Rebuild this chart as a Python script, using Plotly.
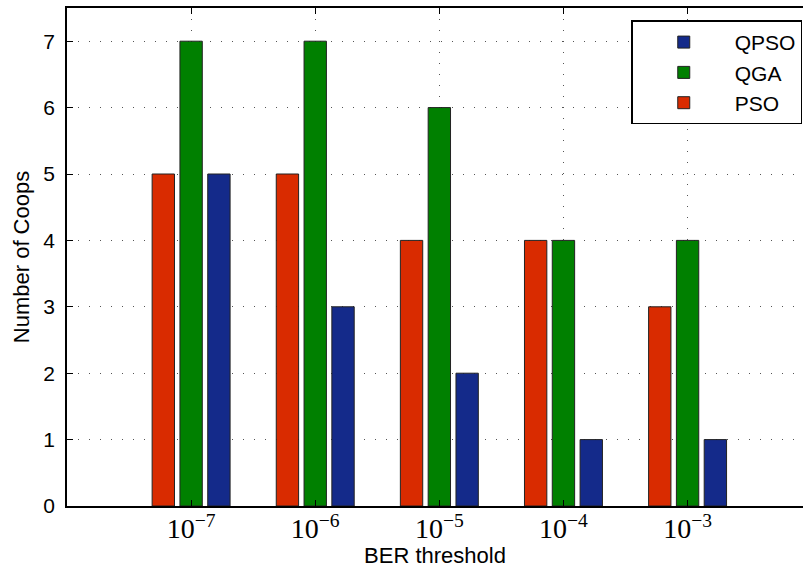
import plotly.graph_objects as go

categories = ["1e-7", "1e-6", "1e-5", "1e-4", "1e-3"]
tick_labels = ["10<sup>−7</sup>", "10<sup>−6</sup>", "10<sup>−5</sup>", "10<sup>−4</sup>", "10<sup>−3</sup>"]
pso = [5, 5, 4, 4, 3]
qga = [7, 7, 6, 4, 4]
qpso = [5, 3, 2, 1, 1]

x = [1, 2, 3, 4, 5]

fig = go.Figure()
line = dict(color="#222222", width=1)
fig.add_trace(go.Bar(x=x, y=pso, name="PSO", marker=dict(color="#D92B00", line=line)))
fig.add_trace(go.Bar(x=x, y=qga, name="QGA", marker=dict(color="#008000", line=line)))
fig.add_trace(go.Bar(x=x, y=qpso, name="QPSO", marker=dict(color="#142A8A", line=line)))

fig.update_layout(
    width=803, height=568,
    margin=dict(l=67, r=0, t=8, b=62),
    plot_bgcolor="white", paper_bgcolor="white",
    barmode="group", bargap=0.328, bargroupgap=0.196,
    font=dict(family="Liberation Sans, Arial", size=21, color="black"),
    legend=dict(
        x=0.999, y=0.975, xanchor="right", yanchor="top",
        traceorder="reversed",
        bordercolor="black", borderwidth=1.5, bgcolor="white",
        font=dict(size=21, family="Liberation Sans, Arial"),
        tracegroupgap=0, itemwidth=92,
    ),
    showlegend=True,
)
fig.update_xaxes(
    range=[0, 5.93], tickvals=x, ticktext=tick_labels,
    tickfont=dict(family="Liberation Serif, Times New Roman", size=28),
    ticklabelstandoff=-3,
    showline=True, linecolor="black", linewidth=1.5, mirror="ticks",
    ticks="inside", ticklen=6, tickcolor="black",
    showgrid=True, gridcolor="#555555", griddash="1px,10px", gridwidth=1,
    title=dict(text="BER threshold", font=dict(size=22), standoff=4),
    zeroline=False,
)
fig.update_yaxes(
    range=[0, 7.5], tickvals=[0, 1, 2, 3, 4, 5, 6, 7],
    tickfont=dict(size=21), ticklabelstandoff=6,
    showline=True, linecolor="black", linewidth=1.5, mirror=False,
    ticks="inside", ticklen=6, tickcolor="black",
    showgrid=True, gridcolor="#555555", griddash="1px,10px", gridwidth=1,
    title=dict(text="Number of Coops", font=dict(size=22), standoff=8),
    zeroline=False,
)

fig.write_html("out.html")
